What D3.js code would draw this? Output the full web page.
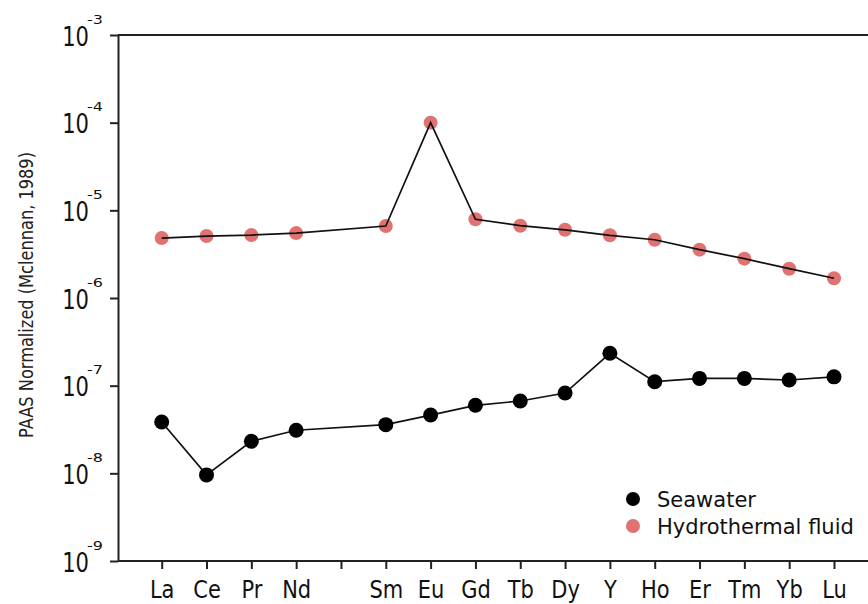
<!DOCTYPE html>
<html>
<head>
<meta charset="utf-8">
<script src="https://cdn.jsdelivr.net/npm/d3@7"></script>
<style>
  body { margin: 0; background: #fff; }
  svg { display: block; }
  text { font-family: "DejaVu Sans", Verdana, sans-serif; }
  .legend-label { font-size: 21px; fill: #111; }
</style>
</head>
<body>
<div id="wrapper"></div>
<script>
// element order on the x axis (Pm kept as an empty slot)
const elements = ["La", "Ce", "Pr", "Nd", "Pm", "Sm", "Eu", "Gd", "Tb", "Dy", "Y", "Ho", "Er", "Tm", "Yb", "Lu"];
const elementLabels = ["La", "Ce", "Pr", "Nd", "", "Sm", "Eu", "Gd", "Tb", "Dy", "Y", "Ho", "Er", "Tm", "Yb", "Lu"];

const seawater = [3.85e-8, 9.6e-9, 2.32e-8, 3.1e-8, null, 3.59e-8, 4.62e-8, 5.97e-8, 6.68e-8, 8.24e-8, 2.34e-7, 1.11e-7, 1.21e-7, 1.21e-7, 1.16e-7, 1.26e-7];
const hydrothermal = [4.83e-6, 5.09e-6, 5.22e-6, 5.5e-6, null, 6.62e-6, 1.0e-4, 7.9e-6, 6.68e-6, 6.0e-6, 5.19e-6, 4.62e-6, 3.56e-6, 2.81e-6, 2.16e-6, 1.68e-6];

const yTickValues = [1e-9, 1e-8, 1e-7, 1e-6, 1e-5, 1e-4, 1e-3];
const yTickExponents = ["-9", "-8", "-7", "-6", "-5", "-4", "-3"];

const seriesNames = ["Seawater", "Hydrothermal fluid"];
const seriesColors = ["#000000", "#e07272"];

function draw() {
  let dimensions = {
    width: 868,
    height: 604,
    margin: { top: 35, right: 0, bottom: 43, left: 118 },
  };
  dimensions.plotWidth = dimensions.width - dimensions.margin.left - dimensions.margin.right;
  dimensions.plotHeight = dimensions.height - dimensions.margin.top - dimensions.margin.bottom;

  const wrapper = d3.select("#wrapper")
    .append("svg")
    .attr("width", dimensions.width)
    .attr("height", dimensions.height);

  const plot = wrapper.append("g")
    .attr("transform", `translate(${dimensions.margin.left}, ${dimensions.margin.top})`);

  // scales
  const xScale = d3.scalePoint()
    .domain(elements)
    .range([43.7, 716]);

  const yScale = d3.scaleLog()
    .domain([1e-9, 1e-3])
    .range([dimensions.plotHeight, 0]);

  // axes
  const yAxis = plot.append("g")
    .call(d3.axisLeft(yScale).tickValues(yTickValues).tickSize(8).tickSizeOuter(0).tickFormat(""));
  yAxis.select(".domain").attr("stroke", "#222").attr("stroke-width", 2);
  yAxis.selectAll(".tick line").attr("stroke", "#222").attr("stroke-width", 2);

  // tick labels are narrow in the original, so squeeze them horizontally
  const yLabels = yAxis.selectAll(".tick").data(yTickValues);
  yLabels.append("text")
    .attr("transform", "translate(-29, 10) scale(0.78, 1)")
    .attr("text-anchor", "end")
    .attr("fill", "#111")
    .style("font-size", "27px")
    .text("10");
  yLabels.append("text")
    .attr("transform", "translate(-31, -12) scale(1, 0.8)")
    .attr("text-anchor", "start")
    .attr("fill", "#111")
    .style("font-size", "16px")
    .text((d, i) => yTickExponents[i]);

  const xAxis = plot.append("g")
    .attr("transform", `translate(0, ${dimensions.plotHeight})`)
    .call(d3.axisBottom(xScale).tickSize(8).tickSizeOuter(0).tickFormat((d, i) => elementLabels[i]));
  xAxis.select(".domain").attr("stroke", "#222").attr("stroke-width", 2)
    .attr("d", `M0,0H${dimensions.plotWidth}`);
  xAxis.selectAll(".tick line").attr("stroke", "#222").attr("stroke-width", 2);
  xAxis.selectAll(".tick text")
    .attr("y", 37)
    .attr("dy", null)
    .attr("transform", "scale(0.84, 1)")
    .attr("fill", "#111")
    .style("font-size", "25px");

  // top spine
  plot.append("line")
    .attr("x1", 0)
    .attr("x2", dimensions.plotWidth)
    .attr("y1", 0)
    .attr("y2", 0)
    .attr("stroke", "#222")
    .attr("stroke-width", 2);

  // y axis title
  wrapper.append("text")
    .attr("transform", `translate(33, 295) rotate(-90)`)
    .attr("text-anchor", "middle")
    .attr("fill", "#222")
    .attr("textLength", 286)
    .attr("lengthAdjust", "spacingAndGlyphs")
    .style("font-size", "20px")
    .text("PAAS Normalized (Mclennan, 1989)");

  // lines and points
  const lineGenerator = d3.line()
    .defined((d) => d.value != null)
    .x((d) => xScale(d.element))
    .y((d) => yScale(d.value));

  const toPoints = (values) =>
    elements.map((el, i) => ({ element: el, value: values[i] }))
      .filter((d) => d.value != null);

  const hydroPoints = toPoints(hydrothermal);
  const seaPoints = toPoints(seawater);

  // hydrothermal: markers under the line
  plot.selectAll(".hydro-dot")
    .data(hydroPoints)
    .enter()
    .append("circle")
    .attr("class", "hydro-dot")
    .attr("cx", (d) => xScale(d.element))
    .attr("cy", (d) => yScale(d.value))
    .attr("r", 7)
    .attr("fill", seriesColors[1]);

  plot.append("path")
    .datum(hydroPoints)
    .attr("d", lineGenerator)
    .attr("fill", "none")
    .attr("stroke", "#111")
    .attr("stroke-width", 1.7);

  plot.append("path")
    .datum(seaPoints)
    .attr("d", lineGenerator)
    .attr("fill", "none")
    .attr("stroke", "#111")
    .attr("stroke-width", 1.7);

  plot.selectAll(".sea-dot")
    .data(seaPoints)
    .enter()
    .append("circle")
    .attr("class", "sea-dot")
    .attr("cx", (d) => xScale(d.element))
    .attr("cy", (d) => yScale(d.value))
    .attr("r", 7.5)
    .attr("fill", seriesColors[0]);

  // legend
  const legend = wrapper.append("g")
    .attr("transform", "translate(633, 499)");
  const legendItems = legend.selectAll(".legend-item")
    .data(seriesNames)
    .enter()
    .append("g")
    .attr("class", "legend-item")
    .attr("transform", (d, i) => `translate(0, ${i * 27})`);
  legendItems.append("circle")
    .attr("r", 7)
    .attr("fill", (d, i) => seriesColors[i]);
  legendItems.append("text")
    .attr("class", "legend-label")
    .attr("x", 24)
    .attr("y", 7.5)
    .text((d) => d);
}
draw();
</script>
</body>
</html>
